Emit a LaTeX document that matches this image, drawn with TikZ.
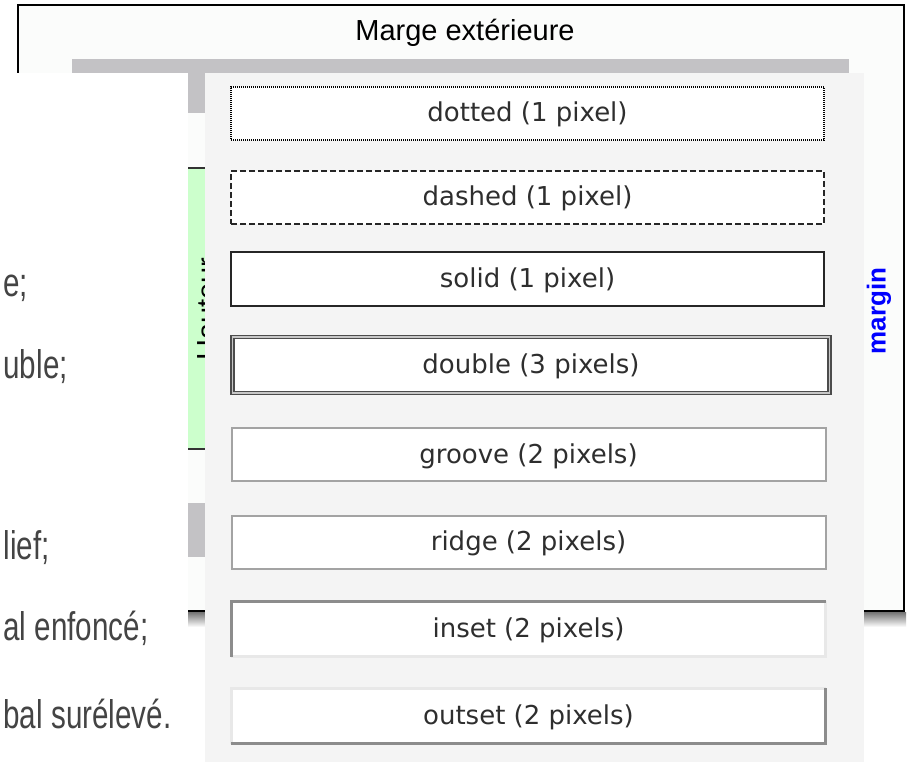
\documentclass[tikz,border=0pt]{standalone}
\definecolor{cadre_gris}{RGB}{244, 244, 244}
\definecolor{marge_fond}{RGB}{251, 252, 251}
\definecolor{barre_gris}{RGB}{195, 194, 197}
\definecolor{haut_vert}{RGB}{204, 255, 204}
\definecolor{texte_gris}{RGB}{68, 68, 68}
\definecolor{bord_fonce}{RGB}{140, 140, 140}
\definecolor{bord_clair}{RGB}{232, 232, 232}
\usepackage{fontspec}
\setmainfont{Liberation Sans}
\newfontfamily\boitefont{DejaVu Sans}
\newfontfamily\etroitfont[FakeStretch=0.74]{Liberation Sans}
\usepackage{tikz}
\usetikzlibrary{positioning}

\begin{document}
\begin{tikzpicture}[x=1pt, y=-1pt,
      cadre/.style={fill=white, inner sep=0pt,
                    minimum width=593pt, minimum height=53pt,
                    text height=19pt, text depth=2pt,
                    font=\boitefont\fontsize{26}{29}\selectfont,
                    text=black!82},
      relief/.style={cadre, minimum width=594pt, draw=bord_fonce!80, line width=2pt},
      fonce/.style={draw=bord_fonce, line width=2.6pt},
      clair/.style={draw=bord_clair, line width=2.6pt},
      liste/.style={anchor=base west, text=texte_gris,
                    font=\etroitfont\fontsize{40}{44}\selectfont}]
      \useasboundingbox (0,0) rectangle (908,762);
      \fill[white] (0,0) rectangle (908,762);
      \shade[top color=black!55, bottom color=white] (18,612) rectangle (906,627);
      \draw[fill=marge_fond, line width=1.6pt] (18,5) rectangle (904,611);
      \node[font=\fontsize{29}{32}\selectfont] (marge) at (465,33) {Marge extérieure};
      \fill[barre_gris] (72,59) rectangle (849,73);
      \fill[barre_gris] (188,73) rectangle (205,113);
      \fill[haut_vert] (188,168) rectangle (205,449);
      \draw[black!80, line width=1.6pt] (188,168) -- (205,168) (188,449) -- (205,449);
      \fill[barre_gris] (188,503) rectangle (205,557);
      \node[rotate=90, anchor=base west, inner sep=0pt,
            font=\fontsize{29}{32}\selectfont] (haut) at (217,361) {Hauteur};
      \fill[white] (0,73) rectangle (188,762);
      \node[liste] (l1) at (0,297) {e;};
      \node[liste] (l2) at (0,378) {uble;};
      \node[liste] (l3) at (0,559) {lief;};
      \node[liste] (l4) at (0,640) {al enfoncé;};
      \node[liste] (l5) at (0,728) {bal surélevé.};
      \fill[cadre_gris] (205,73) rectangle (864,763);
      \node[cadre, draw=black, line width=1.6pt, dash pattern=on 1pt off 1pt]
        (dott) at (527.5,113.5) {dotted (1 pixel)};
      \node[cadre, draw=black!85, line width=1.5pt, dash pattern=on 6pt off 3pt]
        (dash) at (527.5,197.5) {dashed (1 pixel)};
      \node[cadre, draw=black!85, line width=1.8pt, minimum height=54pt]
        (soli) at (527.5,279) {solid (1 pixel)};
      \node[cadre, draw=black!70, line width=1.4pt, double=black!22,
            double distance=1.6pt, minimum width=597pt, minimum height=56pt]
        (dbl) at (531,365) {double (3 pixels)};
      \node[relief] (groo) at (528.5,454.5) {groove (2 pixels)};
      \node[relief] (ridg) at (528.5,542) {ridge (2 pixels)};
      \node[cadre, minimum width=594pt, minimum height=55pt]
        (ins) at (528.5,629) {inset (2 pixels)};
      \draw[clair] (ins.south west) -- (ins.south east) -- (ins.north east);
      \draw[fonce] (ins.south west) -- (ins.north west) -- (ins.north east);
      \node[cadre, minimum width=594pt, minimum height=55pt]
        (outs) at (528.5,716) {outset (2 pixels)};
      \draw[clair] (outs.south west) -- (outs.north west) -- (outs.north east);
      \draw[fonce] (outs.south west) -- (outs.south east) -- (outs.north east);
      \node[rotate=90, text=blue, font=\bfseries\fontsize{26}{28}\selectfont]
        (marg) at (879,311) {margin};
    \end{tikzpicture}
\end{document}
